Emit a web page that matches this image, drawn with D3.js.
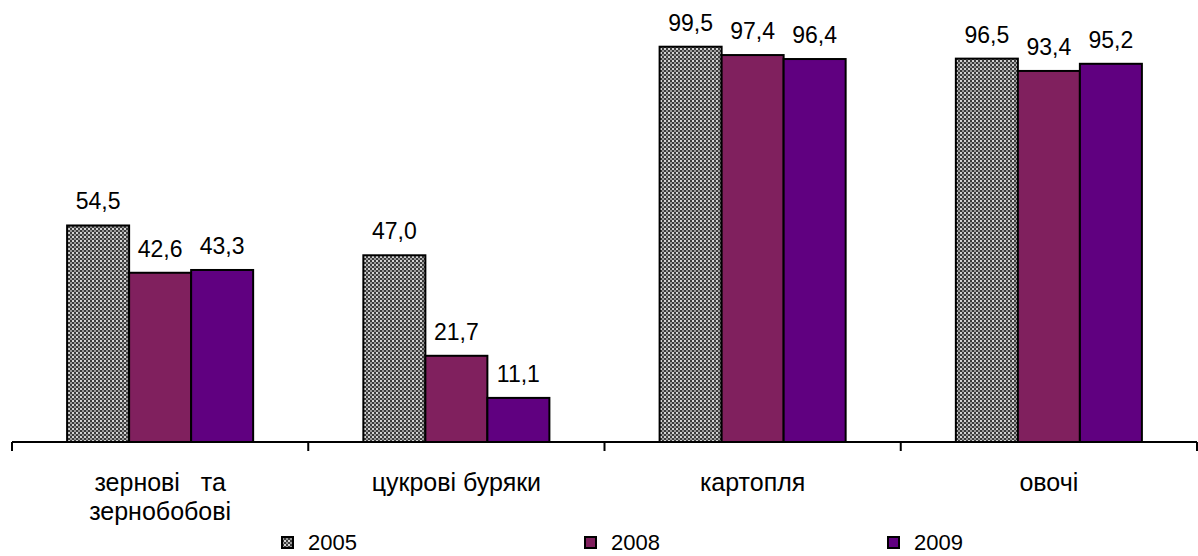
<!DOCTYPE html>
<html><head><meta charset="utf-8">
<script src="https://cdn.jsdelivr.net/npm/d3@7"></script>
<style>
html,body{margin:0;padding:0;background:#fff;}
text{font-family:"Liberation Sans",Arial,sans-serif;fill:#000;}
</style></head>
<body><svg id="c" width="1198" height="556"></svg>
<script>
const categories = [["зернові   та","зернобобові"],["цукрові буряки"],["картопля"],["овочі"]];
const categoryKeys = ["зернові та зернобобові","цукрові буряки","картопля","овочі"];
const series = ["2005","2008","2009"];
const values2005 = [54.5, 47.0, 99.5, 96.5];
const values2008 = [42.6, 21.7, 97.4, 93.4];
const values2009 = [43.3, 11.1, 96.4, 95.2];
const valueSets = [values2005, values2008, values2009];

const svg = d3.select("#c");
const defs = svg.append("defs");
const pat = defs.append("pattern").attr("id","chk").attr("patternUnits","userSpaceOnUse")
  .attr("width",4).attr("height",4);
pat.append("rect").attr("width",4).attr("height",4).attr("fill","#3c3c3c");
pat.append("rect").attr("x",0).attr("y",0).attr("width",2).attr("height",2).attr("fill","#d4d4d4");
pat.append("rect").attr("x",2).attr("y",2).attr("width",2).attr("height",2).attr("fill","#9a9a9a");

const fills = ["url(#chk)","#80205E","#600080"];

const x0 = d3.scaleBand().domain(categoryKeys).range([12,1197]).padding(0);
const groupW = x0.bandwidth()*0.628;
const x1 = d3.scaleBand().domain(series).range([0,groupW]).padding(0);
const y = d3.scaleLinear().domain([0,110]).range([442,5]);

const g = svg.append("g");
categoryKeys.forEach((c,ci)=>{
  const gx = x0(c) + (x0.bandwidth()-groupW)/2;
  series.forEach((s,si)=>{
    const v = valueSets[si][ci];
    g.append("rect").attr("x",gx+x1(s)).attr("y",y(v))
      .attr("width",x1.bandwidth()).attr("height",y(0)-y(v))
      .attr("fill",fills[si]).attr("stroke","#000").attr("stroke-width",2);
    g.append("text").attr("x",gx+x1(s)+x1.bandwidth()/2).attr("y",y(v)-16)
      .attr("text-anchor","middle").attr("font-size",23)
      .text(d3.format(".1f")(v).replace(".",","));
  });
});

// axis
const ag = svg.append("g").attr("transform","translate(0,442)");
ag.append("line").attr("x1",12).attr("x2",1197).attr("stroke","#000").attr("stroke-width",2);
const tickPos = categoryKeys.map(c=>x0(c)).concat([x0.range()[1]]);
tickPos.forEach(t=>{
  ag.append("line").attr("x1",t).attr("x2",t).attr("y1",0).attr("y2",9).attr("stroke","#000").attr("stroke-width",2);
});
categories.forEach((lines,ci)=>{
  const cx = x0(categoryKeys[ci]) + x0.bandwidth()/2;
  const t = ag.append("text").attr("text-anchor","middle").attr("font-size",25)
    .attr("xml:space","preserve").style("white-space","pre");
  lines.forEach((ln,li)=>{
    t.append("tspan").attr("x",cx).attr("y",49+li*29).text(ln);
  });
});

// legend
const lg = svg.append("g");
series.forEach((s,si)=>{
  const lx = 282 + si*303;
  lg.append("rect").attr("x",lx).attr("y",537).attr("width",11).attr("height",11)
    .attr("fill",fills[si]).attr("stroke","#000").attr("stroke-width",2);
  lg.append("text").attr("x",lx+26).attr("y",550).attr("font-size",22).text(s);
});
</script></body></html>
